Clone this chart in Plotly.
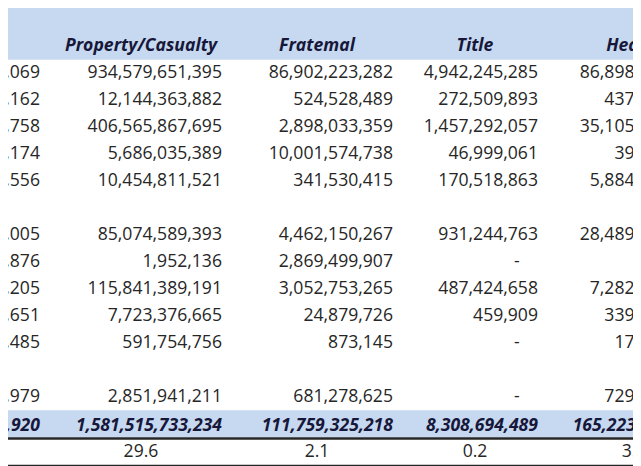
import plotly.graph_objects as go

# row index: 0-4 first block, 6-10 second block, 12 single row, 13 total, 14 share (%)
data_rows = [0, 1, 2, 3, 4, 6, 7, 8, 9, 10, 12]

headers = ["", "Property/Casualty", "Fratemal", "Title", "Health"]

col0 = [1203112069, 35219162, 610889758, 31023174, 40125556,
        310443005, 3115876, 402132205, 22119651, 1225485, 51002979]
property_casualty = [934579651395, 12144363882, 406565867695, 5686035389, 10454811521,
                     85074589393, 1952136, 115841389191, 7723376665, 591754756, 2851941211]
fraternal = [86902223282, 524528489, 2898033359, 10001574738, 341530415,
             4462150267, 2869499907, 3052753265, 24879726, 873145, 681278625]
title = [4942245285, 272509893, 1457292057, 46999061, 170518863,
         931244763, 0, 487424658, 459909, 0, 0]
health = [86898410221, 437220118, 35105331402, 39118550, 5884207113,
          28489120556, 0, 7282540227, 339114802, 17330415, 729884120]

totals = [5301115920, 1581515733234, 111759325218, 8308694489, 165223311554]
shares = [None, 29.6, 2.1, 0.2, 3.1]

columns = [col0, property_casualty, fraternal, title, health]
right_edge = [40, 222, 393, 538, 704]
center = [-40, 141, 317, 475, 634]

text_color = "#262626"
head_color = "#17173a"
band = "#c6d9f0"
font = "Open Sans"
size = 17.6

def fmt(v):
    return f"{v:,}" if v else "-\u00a0\u00a0\u00a0\u00a0"

fig = go.Figure()

for i, col in enumerate(columns):
    fig.add_trace(go.Scatter(
        x=[right_edge[i]] * len(col), y=data_rows, mode="text",
        text=[fmt(v) for v in col], textposition="middle left",
        textfont=dict(family=font, size=size, color=text_color),
        cliponaxis=True, hoverinfo="skip", showlegend=False))

# header
fig.add_trace(go.Scatter(
    x=center, y=[-1] * 5, mode="text",
    text=[f"<b><i>{h}</i></b>" for h in headers], textposition="middle center",
    textfont=dict(family=font, size=size, color=head_color),
    cliponaxis=True, hoverinfo="skip", showlegend=False))

# totals
fig.add_trace(go.Scatter(
    x=right_edge, y=[13.05] * 5, mode="text",
    text=[f"<b><i>{v:,}</i></b>" for v in totals], textposition="middle left",
    textfont=dict(family=font, size=size, color=head_color),
    cliponaxis=True, hoverinfo="skip", showlegend=False))

# shares
fig.add_trace(go.Scatter(
    x=center[1:], y=[14.0] * 4, mode="text",
    text=[f"{s}" for s in shares[1:]], textposition="middle center",
    textfont=dict(family=font, size=size, color=text_color),
    cliponaxis=True, hoverinfo="skip", showlegend=False))

x0, x1 = 8, 649
fig.update_layout(
    width=641, height=466, margin=dict(l=0, r=0, t=0, b=0),
    paper_bgcolor="white", plot_bgcolor="white",
    xaxis=dict(range=[x0, x1], visible=False, fixedrange=True),
    yaxis=dict(range=[14.81, -2.44], visible=False, fixedrange=True),
    shapes=[
        dict(type="rect", xref="x", yref="y", x0=x0, x1=x1, y0=-2.6, y1=-0.52,
             fillcolor=band, line_width=0, layer="below"),
        dict(type="rect", xref="x", yref="y", x0=x0, x1=x1, y0=12.45, y1=13.45,
             fillcolor=band, line_width=0, layer="below"),
        dict(type="line", xref="x", yref="y", x0=x0, x1=x1, y0=-2.6, y1=-2.6,
             line=dict(color="#404040", width=1.5)),
        dict(type="line", xref="x", yref="y", x0=x0, x1=x1, y0=13.5, y1=13.5,
             line=dict(color="#262626", width=2.5)),
        dict(type="line", xref="x", yref="y", x0=x0, x1=x1, y0=14.5, y1=14.5,
             line=dict(color="#262626", width=2)),
    ],
)

fig.write_html("out.html")
